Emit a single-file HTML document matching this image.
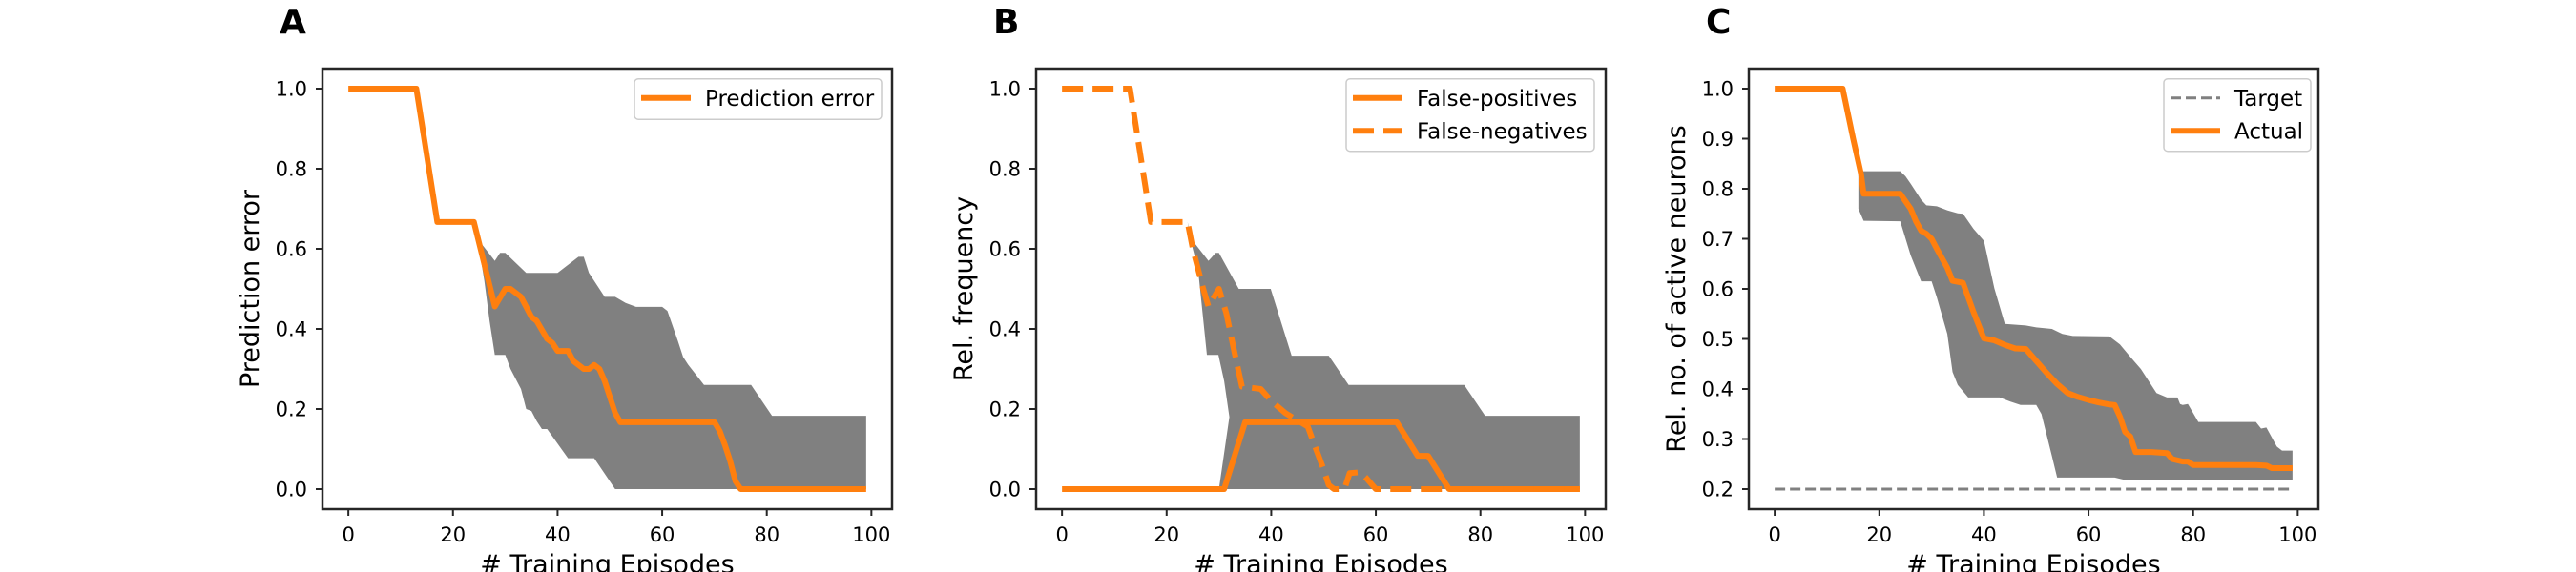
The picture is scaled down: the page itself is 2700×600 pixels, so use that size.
<!DOCTYPE html>
<html><head><meta charset="utf-8">
<style>
html,body{margin:0;padding:0;background:#fff;}
svg{display:block;font-family:"DejaVu Sans","Liberation Sans",sans-serif;}
</style></head>
<body>
<svg id="fig" width="2700" height="600" viewBox="0 0 2700 600" xmlns="http://www.w3.org/2000/svg"></svg>
<script>
// ---- Panel A data ----
const aEpisodes = [0,13,17,24,28,30,31,33,35,36,38,39,40,42,43,45,46,47,48,49,51,52,70,71,72,73,74,75,99];
const aMean     = [1,1,0.667,0.667,0.456,0.5,0.5,0.48,0.43,0.42,0.375,0.365,0.345,0.345,0.32,0.30,0.30,0.31,0.30,0.27,0.19,0.167,0.167,0.145,0.11,0.07,0.02,0,0];
const aUpperX = [24,25,28,29,30,34,40,44,45,46,49,51,53,55,60,61,63,64,65,68,77,81,99];
const aUpperY = [0.667,0.62,0.57,0.59,0.59,0.54,0.54,0.58,0.58,0.54,0.48,0.48,0.465,0.455,0.455,0.445,0.37,0.33,0.31,0.26,0.26,0.183,0.183];
const aLowerX = [24,25,26,27,28,30,31,33,34,35,36,37,38,42,47,51,99];
const aLowerY = [0.667,0.6,0.52,0.42,0.335,0.335,0.3,0.25,0.2,0.195,0.17,0.15,0.15,0.077,0.077,0,0];

// ---- Panel B data ----
const bFpX = [0,31,35,64,68,70,74,99];
const bFpY = [0,0,0.167,0.167,0.083,0.083,0,0];
const bFnX = [0,13,17,24,25,27,28,30,31.4,33,34.4,38,40,42.7,47,48,50,51,52,54,55,57,58,60,99];
const bFnY = [1,1,0.667,0.667,0.6,0.5,0.456,0.5,0.44,0.34,0.256,0.25,0.22,0.19,0.156,0.12,0.05,0.01,0,0,0.04,0.042,0.03,0,0];
const bUpperX = [24,25,28,29.4,30,33.8,39.9,43.9,51,54.8,76.9,80.9,99];
const bUpperY = [0.667,0.62,0.57,0.59,0.59,0.5,0.5,0.333,0.333,0.26,0.26,0.183,0.183];
const bLowerX = [24,25,26,27.7,29.9,31,32,30,99];
const bLowerY = [0.667,0.6,0.55,0.335,0.335,0.27,0.18,0,0];

// ---- Panel C data ----
const cTargetX = [0,99];
const cTargetY = [0.2,0.2];
const cEpisodes = [0,13,15,16.5,17,24,25,26,27,28,29,30,31,33,34,36,38,40,42,44,46,48,50,52,54,56,58,60,62,64,65,66,67,68,69,72,75,76,78,79,80,92,94,95,99];
const cMean     = [1,1,0.9,0.83,0.79,0.79,0.775,0.76,0.735,0.716,0.71,0.70,0.68,0.642,0.616,0.612,0.554,0.501,0.497,0.488,0.481,0.48,0.456,0.432,0.41,0.392,0.384,0.378,0.373,0.369,0.368,0.345,0.314,0.305,0.274,0.274,0.272,0.26,0.255,0.255,0.248,0.248,0.247,0.242,0.242];
const cUpperX = [16,24,25,26,28,29,31,33,35,36,38,40,42,44,48,50,53,55,57,64,66,68,70,73,75,77,77.5,78,79,81,92,93,94,96,97,99];
const cUpperY = [0.835,0.835,0.825,0.81,0.778,0.767,0.765,0.757,0.751,0.75,0.72,0.696,0.601,0.53,0.527,0.523,0.52,0.51,0.506,0.505,0.489,0.464,0.44,0.392,0.383,0.383,0.37,0.368,0.37,0.334,0.334,0.321,0.323,0.285,0.277,0.277];
const cLowerX = [16,17,24,26,28,30,31,33,34,35,37,43,45,47,50,51,53,54,60,65,67,99];
const cLowerY = [0.76,0.736,0.735,0.667,0.615,0.615,0.583,0.51,0.434,0.408,0.383,0.383,0.375,0.368,0.368,0.35,0.266,0.223,0.223,0.223,0.218,0.218];

// ---- tick labels ----
const xTicks = [0,20,40,60,80,100];
const abYTicks = [0.0,0.2,0.4,0.6,0.8,1.0];
const cYTicks = [0.2,0.3,0.4,0.5,0.6,0.7,0.8,0.9,1.0];

const NS = "http://www.w3.org/2000/svg";
const svg = document.getElementById("fig");
const ORANGE = "#ff7f0e", GRAY = "#808080";
const TOP = 72, BOT = 534, W = 597;

function mk(tag, attrs, parent){
  const e = document.createElementNS(NS, tag);
  for (const k in attrs) e.setAttribute(k, attrs[k]);
  (parent||svg).appendChild(e);
  return e;
}
function makeAxes(L, ymin, ymax){
  const xmin=-4.95, xmax=103.95;
  return {
    L, ymin, ymax,
    x: v => L + (v - xmin) / (xmax - xmin) * W,
    y: v => BOT - (v - ymin) / (ymax - ymin) * (BOT - TOP)
  };
}
function pts(ax, xs, ys){ return xs.map((v,i)=>ax.x(v).toFixed(2)+","+ax.y(ys[i]).toFixed(2)).join(" "); }
function xsys(xs,ys){ return xs.map((v,i)=>[v,ys[i]]); }

function drawBand(ax, ux, uy, lx, ly, name){
  const up = xsys(ux,uy), lo = xsys(lx,ly).reverse();
  const all = up.concat(lo).map(p=>ax.x(p[0]).toFixed(2)+","+ax.y(p[1]).toFixed(2)).join(" ");
  const p = mk("polygon",{points:all, fill:GRAY, stroke:"none"});
  
  
}
function drawLine(ax, xs, ys, color, w, dash, name){
  const a = {points:pts(ax,xs,ys), fill:"none", stroke:color, "stroke-width":w, "stroke-linejoin":"round"};
  if (dash) a["stroke-dasharray"] = dash;
  const l = mk("polyline", a);
  
  
}
function drawFrame(ax, yTicks, yFmt, ylabel, title, prefix){
  const g = mk("g",{});
  
  
  const r = mk("rect",{x:ax.L, y:TOP, width:W, height:BOT-TOP, fill:"none", stroke:"#262626", "stroke-width":2.5}, g);
  
  
  xTicks.forEach(v=>{
    const X = ax.x(v);
    mk("line",{x1:X,x2:X,y1:BOT,y2:BOT+7,stroke:"#262626","stroke-width":2}, g);
    const t = mk("text",{x:X,y:568,"font-size":21,"text-anchor":"middle",fill:"#000"}, g);
    t.textContent = v;
    
    
  });
  yTicks.forEach(v=>{
    const Y = ax.y(v);
    mk("line",{x1:ax.L-7,x2:ax.L,y1:Y,y2:Y,stroke:"#262626","stroke-width":2}, g);
    const t = mk("text",{x:ax.L-16,y:Y+7.6,"font-size":21,"text-anchor":"end",fill:"#000"}, g);
    t.textContent = yFmt(v);
    
    
  });
  const xl = mk("text",{x:ax.L+W/2,y:601,"font-size":27,"text-anchor":"middle",fill:"#000"}, g);
  xl.textContent = "# Training Episodes";
  
  
  const cy = (TOP+BOT)/2, cx = ax.L-67;
  const yl = mk("text",{x:cx,y:cy,"font-size":27,"text-anchor":"middle",fill:"#000",transform:`rotate(-90 ${cx} ${cy})`}, g);
  yl.textContent = ylabel;
  
  
  const tt = mk("text",{x:ax.L-45,y:35,"font-size":36,"font-weight":"bold",fill:"#000"}, g);
  tt.textContent = title;
  
  
}
function drawLegend(x1, x2, entries, prefix){
  const h = entries.length===1 ? 42.5 : 76;
  const g = mk("g",{});
  
  
  mk("rect",{x:x1,y:82.7,width:x2-x1,height:h,rx:4,fill:"#fff","fill-opacity":0.8,stroke:"#cccccc","stroke-width":1.5}, g);
  entries.forEach((e,i)=>{
    const Y = 102.7 + i*34.6;
    const a = {x1:x1+7,x2:x1+59,y1:Y,y2:Y,stroke:e.color,"stroke-width":e.w};
    if (e.dash) a["stroke-dasharray"]=e.dash;
    mk("line",a,g);
    const t = mk("text",{x:x1+74,y:Y+8.2,"font-size":23,fill:"#000"}, g);
    t.textContent = e.label;
    
    
  });
}

// Panel A
const axA = makeAxes(338, -0.05, 1.05);
drawBand(axA, aUpperX, aUpperY, aLowerX, aLowerY, "a-std-band");
drawLine(axA, aEpisodes, aMean, ORANGE, 6, null, "a-prediction-error-line");
drawFrame(axA, abYTicks, v=>v.toFixed(1), "Prediction error", "A", "a");
drawLegend(665, 924, [{label:"Prediction error", color:ORANGE, w:6}], "a");

// Panel B
const axB = makeAxes(1086, -0.05, 1.05);
drawBand(axB, bUpperX, bUpperY, bLowerX, bLowerY, "b-std-band");
drawLine(axB, bFpX, bFpY, ORANGE, 6, null, "b-false-positives-line");
drawLine(axB, bFnX, bFnY, ORANGE, 6, "22 10", "b-false-negatives-line");
drawFrame(axB, abYTicks, v=>v.toFixed(1), "Rel. frequency", "B", "b");
drawLegend(1411, 1671, [{label:"False-positives", color:ORANGE, w:6},{label:"False-negatives", color:ORANGE, w:6, dash:"22 10"}], "b");

// Panel C
const axC = makeAxes(1833, 0.16, 1.04);
drawBand(axC, cUpperX, cUpperY, cLowerX, cLowerY, "c-std-band");
drawLine(axC, cTargetX, cTargetY, GRAY, 3, "11 5", "c-target-line");
drawLine(axC, cEpisodes, cMean, ORANGE, 6, null, "c-actual-line");
drawFrame(axC, cYTicks, v=>v.toFixed(1), "Rel. no. of active neurons", "C", "c");
drawLegend(2268, 2422, [{label:"Target", color:GRAY, w:3, dash:"11 5"},{label:"Actual", color:ORANGE, w:6}], "c");
</script>
</body></html>
